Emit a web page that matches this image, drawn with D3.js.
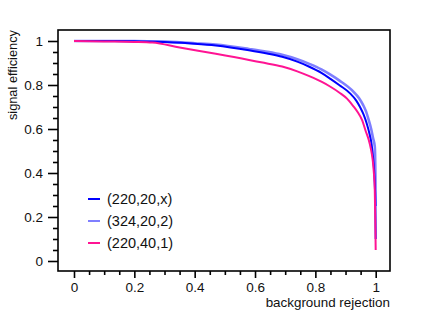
<!DOCTYPE html>
<html>
<head>
<meta charset="utf-8">
<script src="https://cdn.jsdelivr.net/npm/d3@7"></script>
<style>
  body { margin: 0; background: #fff; }
  svg { display: block; font-family: "Liberation Sans", Arial, sans-serif; }
</style>
</head>
<body>
<svg id="roc" width="432" height="318"></svg>
<script>
// background rejection (x) / signal efficiency (y) for each config
const rej220_20 = [0, 0.1, 0.2, 0.3, 0.4, 0.47, 0.58, 0.64, 0.69, 0.74, 0.78, 0.82, 0.85, 0.88, 0.915, 0.935, 0.948, 0.96, 0.97, 0.98, 0.986, 0.992, 0.996, 0.999, 1.0];
const eff220_20 = [1, 1, 0.999, 0.995, 0.988, 0.980, 0.958, 0.943, 0.928, 0.906, 0.883, 0.855, 0.828, 0.799, 0.762, 0.73, 0.70, 0.665, 0.626, 0.575, 0.535, 0.46, 0.38, 0.25, 0.1];

const rej324_20 = [0, 0.1, 0.2, 0.3, 0.4, 0.47, 0.58, 0.64, 0.69, 0.74, 0.78, 0.82, 0.85, 0.88, 0.926, 0.945, 0.958, 0.968, 0.977, 0.985, 0.991, 0.997, 0.999, 1.0];
const eff324_20 = [1, 1, 1, 0.997, 0.99, 0.984, 0.964, 0.951, 0.937, 0.917, 0.896, 0.871, 0.847, 0.820, 0.77, 0.74, 0.71, 0.68, 0.64, 0.6, 0.56, 0.52, 0.4, 0.25];

const rej220_40 = [0, 0.1, 0.2, 0.26, 0.35, 0.47, 0.58, 0.62, 0.69, 0.74, 0.78, 0.82, 0.85, 0.88, 0.905, 0.925, 0.94, 0.955, 0.967, 0.977, 0.984, 0.99, 0.994, 0.997, 0.999, 1.0];
const eff220_40 = [1, 0.998, 0.996, 0.993, 0.97, 0.942, 0.914, 0.903, 0.884, 0.862, 0.840, 0.815, 0.792, 0.765, 0.738, 0.705, 0.677, 0.64, 0.59, 0.55, 0.51, 0.46, 0.40, 0.32, 0.15, 0.05];

const seriesNames = ["(220,20,x)", "(324,20,2)", "(220,40,1)"];
const seriesColors = ["#0000ff", "rgba(0,0,255,0.5)", "#ff1493"];

const xTicks = [0, 0.2, 0.4, 0.6, 0.8, 1];
const yTicks = [0, 0.2, 0.4, 0.6, 0.8, 1];
const xTickLabels = ["0", "0.2", "0.4", "0.6", "0.8", "1"];
const yTickLabels = ["0", "0.2", "0.4", "0.6", "0.8", "1"];

const svg = d3.select("#roc");
const frame = {left: 58, top: 30, right: 390, bottom: 271};

const x = d3.scaleLinear().domain([0, 1]).range([74, 375.7]);
const y = d3.scaleLinear().domain([0, 1]).range([261, 41]);

const series = [
    rej220_20.map((v, i) => [v, eff220_20[i]]),
    rej324_20.map((v, i) => [v, eff324_20[i]]),
    rej220_40.map((v, i) => [v, eff220_40[i]])
];
const widths = [2, 2.6, 2];

const line = d3.line()
    .x(d => x(d[0]))
    .y(d => y(d[1]))
    .curve(d3.curveMonotoneX);

svg.selectAll("path.curve")
    .data(series)
    .enter()
    .append("path")
    .attr("class", "curve")
    .attr("d", line)
    .attr("fill", "none")
    .attr("stroke", (d, i) => seriesColors[i])
    .attr("stroke-width", (d, i) => widths[i])
    .attr("stroke-linejoin", "round");

// box
svg.append("rect")
    .attr("x", frame.left).attr("y", frame.top)
    .attr("width", frame.right - frame.left)
    .attr("height", frame.bottom - frame.top)
    .attr("fill", "none")
    .attr("stroke", "#000")
    .attr("stroke-width", 1.6);

// y axis: majors + minors every 0.05
const yMinor = d3.range(0, 1.0001, 0.05).filter(v => Math.abs(v * 5 - Math.round(v * 5)) > 1e-6);
const yAxis = svg.append("g").attr("transform", `translate(${frame.left},0)`);
yAxis.call(d3.axisLeft(y).tickValues(yMinor).tickSize(5).tickFormat(""))
    .call(g => g.select(".domain").remove());
yAxis.append("g")
    .call(d3.axisLeft(y).tickValues(yTicks).tickSize(10).tickPadding(5)
        .tickFormat((d, i) => yTickLabels[i]))
    .call(g => g.select(".domain").remove());

const xMinor = d3.range(0, 1.0001, 0.05).filter(v => Math.abs(v * 5 - Math.round(v * 5)) > 1e-6);
const xAxis = svg.append("g").attr("transform", `translate(0,${frame.bottom})`);
xAxis.call(d3.axisBottom(x).tickValues(xMinor).tickSize(4).tickFormat(""))
    .call(g => g.select(".domain").remove());
xAxis.append("g")
    .call(d3.axisBottom(x).tickValues(xTicks).tickSize(7).tickPadding(4)
        .tickFormat((d, i) => xTickLabels[i]))
    .call(g => g.select(".domain").remove());

svg.selectAll(".tick line").attr("stroke", "#000").attr("stroke-width", 1.6);
svg.selectAll(".tick text")
    .attr("font-family", "Liberation Sans, Arial, sans-serif")
    .attr("font-size", 13.5)
    .attr("fill", "#111");

svg.append("text")
    .attr("x", frame.right)
    .attr("y", 307)
    .attr("text-anchor", "end")
    .attr("font-size", 13.4)
    .attr("fill", "#111")
    .text("background rejection");

svg.append("text")
    .attr("transform", `translate(17,${frame.top}) rotate(-90)`)
    .attr("text-anchor", "end")
    .attr("font-size", 12.8)
    .attr("fill", "#111")
    .text("signal efficiency");

// legend
const legend = svg.append("g").attr("transform", "translate(88,199)");
const items = legend.selectAll("g")
    .data(seriesNames)
    .enter()
    .append("g")
    .attr("transform", (d, i) => `translate(0,${i * 22})`);
items.append("line")
    .attr("x1", 0).attr("x2", 12)
    .attr("stroke", (d, i) => seriesColors[i])
    .attr("stroke-width", 2);
items.append("text")
    .attr("x", 19)
    .attr("dy", "0.36em")
    .attr("font-size", 14.5)
    .attr("fill", "#111")
    .text(d => d);
</script>
</body>
</html>
